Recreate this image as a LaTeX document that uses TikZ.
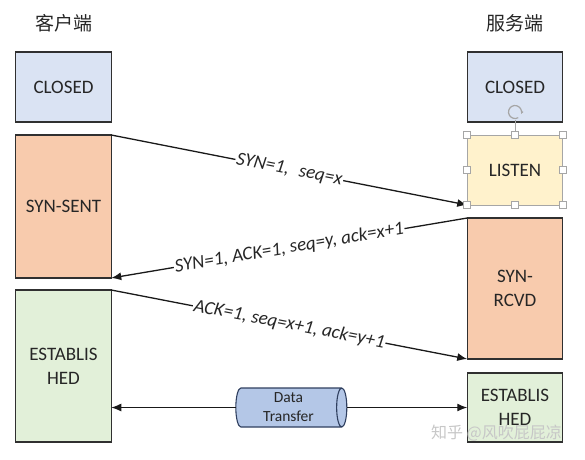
\documentclass[tikz,border=0pt]{standalone}
\usepackage{fontspec}
\setmainfont{Carlito}
\newfontfamily\cjk{Noto Sans CJK SC}
\usetikzlibrary{arrows.meta,shapes.geometric}
\definecolor{cBlue}{HTML}{DAE3F3}
\definecolor{cPeach}{HTML}{F8CBAD}
\definecolor{cYellow}{HTML}{FFF2CC}
\definecolor{cGreen}{HTML}{E2F0D9}
\definecolor{cCyl}{HTML}{B4C7E7}
\definecolor{cCylBorder}{HTML}{2F3F5F}
\definecolor{cBorder}{HTML}{303030}
\definecolor{cText}{HTML}{262626}
\definecolor{cHandle}{HTML}{A6A6A6}
\tikzset{
  statebox/.style={draw=cBorder, line width=1.2pt, inner sep=0pt, outer sep=0pt,
    minimum width=95.5pt, align=center, text=cText,
    font=\fontsize{19}{24}\selectfont},
  msg/.style={line width=1.3pt, draw=black!90, -{Latex[length=10pt,width=8pt]}},
  msglabel/.style={midway, sloped, fill=white, inner sep=1pt,
    font=\fontsize{19}{22}\selectfont\itshape, text=cText},
  head/.style={font=\cjk\fontsize{19}{22}\selectfont, text=cText},
  handle/.style={draw=cHandle, fill=white, line width=0.8pt}
}
\begin{document}
\begin{tikzpicture}[x=1pt,y=-1pt]
\useasboundingbox (0,0) rectangle (585,459);
% headers
\node[head] (hl) at (63.5,23) {客户端};
\node[head] (hr) at (515,23) {服务端};
% client states
\node[statebox, fill=cBlue, minimum height=70pt] (closedL) at (63.5,87) {CLOSED};
\node[statebox, fill=cPeach, minimum height=143pt] (sent) at (63.5,206.5) {SYN-SENT};
\node[statebox, fill=cGreen, minimum height=152pt] (estL) at (63.5,366) {ESTABLIS\\HED};
% server states
\node[statebox, fill=cBlue, minimum height=70pt] (closedR) at (515,87) {CLOSED};
\node[statebox, fill=cYellow, draw=cHandle, line width=0.8pt, minimum height=70pt] (listen) at (515,170) {LISTEN};
\node[statebox, fill=cPeach, minimum height=141pt] (rcvd) at (515,288.5) {SYN-\\RCVD};
\node[statebox, fill=cGreen, minimum height=69pt] (estR) at (515,407.5) {ESTABLIS\\HED};
% data transfer cylinder
\node[cylinder, draw=cCylBorder, line width=1.1pt, fill=cCyl, shape aspect=0.35,
  minimum width=39pt, minimum height=111pt, inner sep=0pt, outer sep=0pt,
  align=center, text=cText, font=\fontsize{15.5}{19}\selectfont] (data) at (288.5,407.5) {Data\\Transfer};
% messages
\draw[msg] (sent.north east) -- node[msglabel] {SYN=1,\hspace{10pt}seq=x} (listen.south west);
\draw[msg] (rcvd.north west) -- node[msglabel] {SYN=1, ACK=1, seq=y, ack=x+1} (sent.south east);
\draw[msg] (estL.north east) -- node[msglabel] {ACK=1, seq=x+1, ack=y+1} (rcvd.south west);
\draw[msg] (data.west) -- (data.west -| estL.east);
\draw[msg] (data.east) -- (data.east -| estR.west);
% selection handles of LISTEN
\draw[cHandle, line width=0.8pt] (listen.north) -- ++(0,-15) coordinate (rot);
\draw[cHandle, line width=1.2pt, -{Latex[length=3pt,width=3pt]}] (515,112) ++(60:6.5) arc (60:380:6.5);
\foreach \a in {north west,north,north east,west,east,south west,south,south east}{
  \path[handle] (listen.\a) ++(-3.5,-3.5) rectangle ++(7,7);
}
% watermark
\node[font=\cjk\fontsize{16}{18}\selectfont, text=black!22] (wm) at (496.5,433) {知乎 @风吹屁屁凉};
\end{tikzpicture}
\end{document}
